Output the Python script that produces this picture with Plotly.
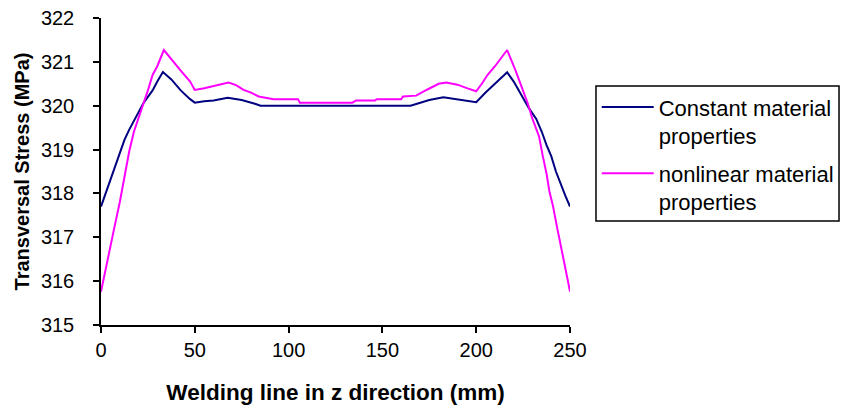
import plotly.graph_objects as go

# Constant material properties
x_const = [0, 2.5, 5, 7.5, 10, 12.5, 15, 17.5, 20, 22.5, 25, 27.5, 30, 33,
           37.5, 42.5, 47.5, 50, 55, 60, 67.5, 75, 82.5, 85, 165, 170, 175,
           182.5, 190, 195, 200, 205, 210, 216.5, 220, 224, 228, 232, 235,
           237.5, 240, 242.5, 245, 247.5, 250]
y_const = [317.7, 318.0, 318.3, 318.6, 318.95, 319.22, 319.45, 319.65, 319.85,
           320.05, 320.2, 320.35, 320.55, 320.77, 320.6, 320.35, 320.15, 320.07,
           320.1, 320.12, 320.18, 320.13, 320.04, 320.0, 320.0, 320.07, 320.13,
           320.19, 320.14, 320.12, 320.08, 320.3, 320.5, 320.76, 320.55, 320.25,
           319.95, 319.7, 319.4, 319.1, 318.85, 318.5, 318.2, 317.95, 317.7]

# Nonlinear material properties
x_nonlin = [0, 2.5, 5, 7.5, 10, 12.5, 15, 17.5, 20, 22.5, 25, 27.5, 30, 33.5,
            37.5, 42.5, 47.5, 50, 55, 60, 65, 68, 72, 76, 80, 84, 92, 105, 106,
            134, 136, 146, 147, 160, 161, 168, 174, 180, 184, 190, 195, 200,
            203, 206, 210, 216.5, 221, 224, 227.5, 230, 233.5, 235.5, 237.5,
            239, 241, 243, 245, 247.5, 250]
y_nonlin = [315.76, 316.3, 316.8, 317.3, 317.8, 318.4, 318.95, 319.4, 319.7,
            320.0, 320.35, 320.7, 320.9, 321.27, 321.05, 320.8, 320.55, 320.36,
            320.4, 320.45, 320.5, 320.53, 320.47, 320.36, 320.3, 320.21, 320.15,
            320.15, 320.07, 320.07, 320.12, 320.12, 320.15, 320.15, 320.21,
            320.23, 320.37, 320.5, 320.53, 320.48, 320.4, 320.33, 320.5, 320.7,
            320.9, 321.27, 320.8, 320.45, 320.05, 319.7, 319.3, 318.85, 318.45,
            318.05, 317.7, 317.25, 316.85, 316.3, 315.76]

series_names = ["Constant material<br>properties", "nonlinear material<br>properties"]
x_ticks = [0, 50, 100, 150, 200, 250]
y_ticks = [315, 316, 317, 318, 319, 320, 321, 322]

FONT = "Liberation Sans, Arial, sans-serif"

fig = go.Figure()
fig.add_trace(go.Scatter(x=x_const, y=y_const, mode="lines", name=series_names[0],
                         legendgroup="a",
                         line=dict(color="#000080", width=2)))
fig.add_trace(go.Scatter(x=x_nonlin, y=y_nonlin, mode="lines", name=series_names[1],
                         legendgroup="b",
                         line=dict(color="#FF00FF", width=2)))

# legend frame
fig.add_shape(type="rect", xref="paper", yref="paper",
              x0=1.0554, x1=1.5736, y0=0.3388, y1=0.7785,
              line=dict(color="black", width=1.5), fillcolor="rgba(0,0,0,0)")

fig.update_layout(
    width=844, height=405,
    margin=dict(l=101, r=274, t=18, b=80, autoexpand=False),
    paper_bgcolor="white", plot_bgcolor="white",
    font=dict(family=FONT, color="black", size=19),
    legend=dict(
        x=1.057, y=0.778, xanchor="left", yanchor="top",
        borderwidth=0, bgcolor="rgba(0,0,0,0)",
        font=dict(family=FONT, size=22, color="black"),
        valign="top", tracegroupgap=6, itemwidth=52,
    ),
    xaxis=dict(
        range=[0, 250], tickvals=x_ticks, ticktext=[str(v) for v in x_ticks],
        showline=True, linecolor="black", linewidth=1.5,
        ticks="outside", ticklen=6, tickwidth=1.5, tickcolor="black",
        showgrid=False, zeroline=False,
        tickfont=dict(size=20), ticklabelstandoff=0,
        title=dict(text="<b>Welding line in z direction (mm)</b>",
                   font=dict(size=22.5), standoff=24),
        automargin=False,
    ),
    yaxis=dict(
        range=[315, 322], tickvals=y_ticks, ticktext=[str(v) for v in y_ticks],
        showline=True, linecolor="black", linewidth=1.5,
        ticks="outside", ticklen=6, tickwidth=1.5, tickcolor="black",
        showgrid=False, zeroline=False,
        tickfont=dict(size=20), ticklabelstandoff=15,
        title=dict(text="<b>Transversal Stress (MPa)</b>",
                   font=dict(size=20), standoff=6),
        automargin=False,
    ),
)

fig.write_html("out.html", config={"displayModeBar": False},
               post_script="document.body.style.margin='0';")
